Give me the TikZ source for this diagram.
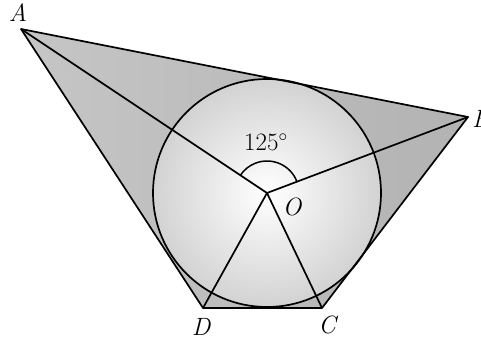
\documentclass[tikz,border=0pt]{standalone}
\begin{document}
\begin{tikzpicture}[x=1pt,y=-1pt,
  edge/.style={line width=1.7pt, line join=round},
  lbl/.style={font=\fontsize{25}{28}\selectfont\itshape, inner sep=0pt}]
\useasboundingbox (0,0) rectangle (481,340);
\coordinate (A) at (21,29);
\coordinate (B) at (468,117);
\coordinate (C) at (322,308);
\coordinate (D) at (203,308);
\coordinate (O) at (267,193);
\shade[left color=gray!45, middle color=gray!20, right color=gray!60] (A) -- (B) -- (C) -- (D) -- cycle;
\shade[inner color=white, outer color=gray!35] (O) circle[radius=114];
\draw[edge] (O) circle[radius=114];
\draw[edge] (A) -- (B) -- (C) -- (D) -- cycle;
\draw[edge] (A) -- (O) -- (B);
\draw[edge] (D) -- (O) -- (C);
\draw[line width=1.5pt] (O) ++(-20.8:32) arc[start angle=-20.8, end angle=-146.3, radius=32];
\node[lbl] (la) at (18,13) {A};
\node[lbl, anchor=west] (lb) at (472,119) {B};
\node[lbl] (lo) at (292,207) {O};
\node[lbl] (ld) at (201,327) {D};
\node[lbl] (lc) at (327,325) {C};
\node[font=\fontsize{25}{28}\selectfont, inner sep=0pt] (ang) at (266,142) {125$^\circ$};
\end{tikzpicture}
\end{document}
